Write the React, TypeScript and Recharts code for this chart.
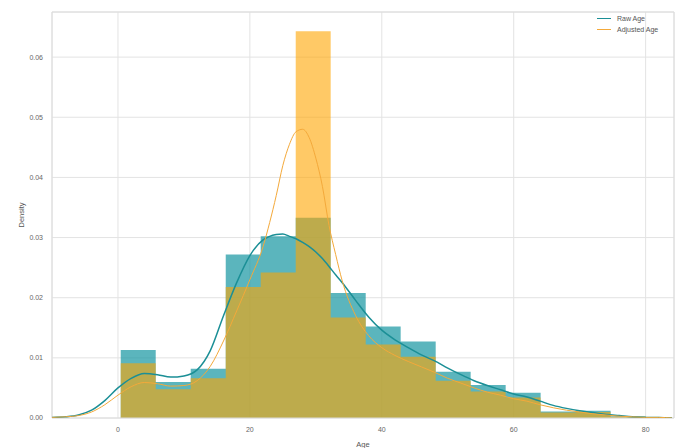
import React from "react";
import {
  ComposedChart,
  Area,
  Line,
  XAxis,
  YAxis,
  CartesianGrid,
  ReferenceArea,
} from "recharts";

// Histogram bin edges (Age)
const binEdges = [0.42, 5.725, 11.03, 16.34, 21.64, 26.95, 32.25, 37.56, 42.86, 48.17, 53.47, 58.78, 64.08, 69.39, 74.69, 80.0];
// Density per bin – Raw Age
const rawHist = [0.0113, 0.006, 0.0082, 0.0272, 0.0302, 0.0333, 0.0208, 0.0152, 0.0127, 0.0077, 0.0055, 0.0042, 0.0011, 0.0012, 0.0003];
// Density per bin – Adjusted Age
const adjHist = [0.0091, 0.0048, 0.0066, 0.0218, 0.0242, 0.0643, 0.0167, 0.0122, 0.0102, 0.0062, 0.0044, 0.0034, 0.0009, 0.001, 0.0002];

// KDE sample positions
const kdeX = [-10, -8, -6, -4, -2, 0, 2, 4, 6, 8, 10, 12, 14, 16, 18, 20, 22, 23, 24, 25, 26, 27, 28, 29, 30, 31, 32, 33, 34, 36, 38, 40, 42, 44, 46, 48, 50, 52, 54, 56, 58, 60, 62, 64, 66, 68, 70, 72, 74, 76, 78, 80, 82, 84];
// KDE – Raw Age
const rawKde = [0.0001, 0.0002, 0.0005, 0.0013, 0.0029, 0.005, 0.0066, 0.0074, 0.0072, 0.0068, 0.007, 0.008, 0.0112, 0.017, 0.0225, 0.027, 0.0296, 0.0302, 0.0305, 0.0306, 0.0302, 0.0298, 0.0292, 0.0285, 0.0276, 0.0265, 0.0252, 0.0238, 0.0225, 0.0196, 0.0168, 0.0146, 0.013, 0.0117, 0.0105, 0.0095, 0.0083, 0.0072, 0.0062, 0.0054, 0.0047, 0.004, 0.0035, 0.0028, 0.0021, 0.0016, 0.0012, 0.0009, 0.0006, 0.0004, 0.0002, 0.0001, 0.0001, 0.0];
// KDE – Adjusted Age
const adjKde = [0.0001, 0.0002, 0.0004, 0.001, 0.0022, 0.0038, 0.0052, 0.0059, 0.0057, 0.0053, 0.0054, 0.0062, 0.0086, 0.0128, 0.0178, 0.023, 0.0285, 0.0325, 0.037, 0.042, 0.0455, 0.0476, 0.048, 0.0466, 0.0432, 0.0385, 0.032, 0.0272, 0.0228, 0.0171, 0.0137, 0.0117, 0.0104, 0.0094, 0.0085, 0.0076, 0.0066, 0.0058, 0.005, 0.0043, 0.0038, 0.0032, 0.0028, 0.0022, 0.0017, 0.0013, 0.001, 0.0007, 0.0005, 0.0003, 0.0002, 0.0001, 0.0001, 0.0];

const xTicks = [0, 20, 40, 60, 80];
const yTicks = [0, 0.01, 0.02, 0.03, 0.04, 0.05, 0.06];
const seriesNames = ["Raw Age", "Adjusted Age"];

const TEAL = "#1b8f96";
const TEAL_FILL = "#1c98a3";
const ORANGE = "#f4a93a";
const ORANGE_FILL = "#ffa500";

const histData = (vals: number[]) =>
  binEdges.map((e, i) => ({ x: e, d: vals[Math.min(i, vals.length - 1)] }));
const kdeData = (vals: number[]) => kdeX.map((x, i) => ({ x, d: vals[i] }));

const FONT = "Liberation Sans, Arial, sans-serif";
const tickStyle = { fontSize: 7, fill: "#666666", fontFamily: FONT };

export default function App() {
  return (
    <div style={{ position: "absolute", left: 0, top: 0, width: 681, height: 448, background: "#fff" }}>
      <ComposedChart
        width={681}
        height={448}
        margin={{ top: 12, right: 7, left: 0, bottom: 0 }}
      >
        <CartesianGrid stroke="#e3e3e3" strokeWidth={1} />
        <XAxis
          dataKey="x"
          type="number"
          domain={[-10, 84.3]}
          allowDataOverflow
          ticks={xTicks}
          tickSize={0}
          tickMargin={9}
          axisLine={false}
          tick={tickStyle}
          height={30}
          label={{ value: "Age", position: "insideBottom", offset: 1, style: { fontSize: 7.5, fill: "#555", fontFamily: FONT } }}
        />
        <YAxis
          type="number"
          domain={[0, 0.0675]}
          allowDataOverflow
          ticks={yTicks}
          tickFormatter={(v: number) => v.toFixed(2)}
          tickSize={0}
          tickMargin={9}
          axisLine={false}
          tick={tickStyle}
          width={52}
          label={{ value: "Density", angle: -90, position: "insideLeft", offset: 21, style: { textAnchor: "middle", fontSize: 7.5, fill: "#555", fontFamily: FONT } }}
        />
        <Area
          data={histData(rawHist)}
          dataKey="d"
          type="stepAfter"
          stroke="none"
          fill={TEAL_FILL}
          fillOpacity={0.72}
          isAnimationActive={false}
          dot={false}
          activeDot={false}
        />
        <Line
          data={kdeData(rawKde)}
          dataKey="d"
          type="monotone"
          stroke={TEAL}
          strokeWidth={1.5}
          dot={false}
          activeDot={false}
          isAnimationActive={false}
        />
        <Area
          data={histData(adjHist)}
          dataKey="d"
          type="stepAfter"
          stroke="none"
          fill={ORANGE_FILL}
          fillOpacity={0.6}
          isAnimationActive={false}
          dot={false}
          activeDot={false}
        />
        <Line
          data={kdeData(adjKde)}
          dataKey="d"
          type="monotone"
          stroke={ORANGE}
          strokeWidth={1}
          dot={false}
          activeDot={false}
          isAnimationActive={false}
        />
        <ReferenceArea
          x1={-10}
          x2={84.3}
          y1={0}
          y2={0.0675}
          fill="none"
          fillOpacity={0}
          stroke="#dcdcdc"
          strokeWidth={1}
          ifOverflow="visible"
        />
      </ComposedChart>
      <div
        style={{
          position: "absolute",
          left: 597,
          top: 13,
          fontFamily: FONT,
          fontSize: 7,
          color: "#555",
          lineHeight: "11px",
        }}
      >
        {seriesNames.map((name, i) => (
          <div key={name} style={{ display: "flex", alignItems: "center" }}>
            <span
              style={{
                display: "inline-block",
                width: 14,
                height: 0,
                borderTop: `${i === 0 ? 1.5 : 1.2}px solid ${i === 0 ? TEAL : ORANGE}`,
                marginRight: 6,
              }}
            />
            <span>{name}</span>
          </div>
        ))}
      </div>
    </div>
  );
}
